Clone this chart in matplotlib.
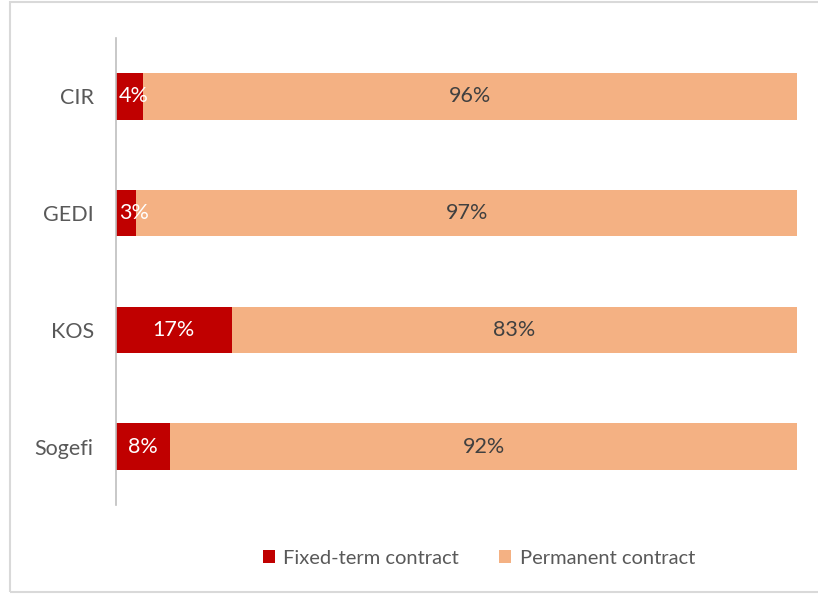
import matplotlib.pyplot as plt
from matplotlib.patches import Rectangle

plt.rcParams['font.family'] = ['Lato', 'DejaVu Sans']

companies = ['CIR', 'GEDI', 'KOS', 'Sogefi']
fixed_term = [4, 3, 17, 8]
permanent = [96, 97, 83, 92]

red = '#C00000'
peach = '#F4B183'

fig = plt.figure(figsize=(8.18, 5.96), dpi=100)
ax = fig.add_axes([116 / 818, 1 - 505 / 596, 681 / 818, 467 / 596])

ypos = list(range(len(companies)))
ax.barh(ypos, fixed_term, height=0.4, color=red, label='Fixed-term contract')
ax.barh(ypos, permanent, left=fixed_term, height=0.4, color=peach,
        label='Permanent contract')

for y, f, p in zip(ypos, fixed_term, permanent):
    if f < 5:
        ax.text(0.4, y, f'{f}%', ha='left', va='center', color='white', fontsize=15.5)
    else:
        ax.text(f / 2, y, f'{f}%', ha='center', va='center', color='white', fontsize=15.5)
    ax.text(f + p / 2, y, f'{p}%', ha='center', va='center', color='#404040', fontsize=15.5)

ax.set_xlim(0, 100)
ax.set_ylim(3.5, -0.5)
ax.set_yticks(ypos)
ax.set_yticklabels(companies, fontsize=15.5, color='#595959')
ax.tick_params(axis='y', length=0, pad=16)
ax.set_xticks([])
for s in ['top', 'right', 'bottom']:
    ax.spines[s].set_visible(False)
ax.spines['left'].set_color('#BFBFBF')
ax.spines['left'].set_linewidth(1.2)

fig.legend(loc='center', bbox_to_anchor=(479 / 818, 1 - 558 / 596), ncol=2,
           frameon=False, fontsize=14.5, handlelength=0.6, handleheight=0.6,
           columnspacing=2.0, handletextpad=0.4, labelcolor='#595959')

fig.patches.append(Rectangle((10 / 818, 4 / 596), 1.0, 590 / 596, transform=fig.transFigure,
                             fill=False, edgecolor='#D9D9D9', linewidth=1.5))

fig.savefig('out.png', dpi=100)
